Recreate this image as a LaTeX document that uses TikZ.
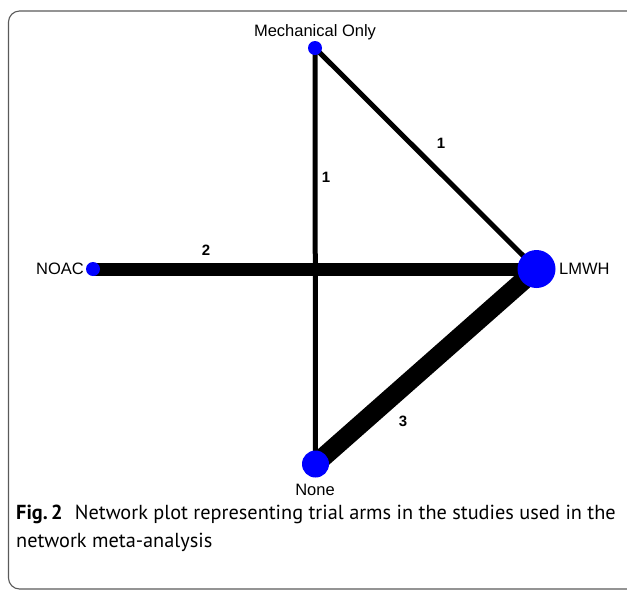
\documentclass[tikz,border=0pt]{standalone}
\usepackage{fontspec}
\setmainfont{Liberation Sans}
\newfontfamily\capfont{PT Sans}
\usetikzlibrary{backgrounds}
\definecolor{nodeblue}{RGB}{0,0,255}
\definecolor{framegray}{RGB}{90,90,90}
\tikzset{
  trt/.style={circle, fill=nodeblue, inner sep=0pt, minimum size=#1},
  trtlabel/.style={font=\fontsize{16.5}{19}\selectfont, inner sep=0pt},
  edgelabel/.style={font=\fontsize{15}{18}\selectfont\bfseries, inner sep=0pt},
  link/.style={line width=#1, line cap=butt, black},
  captext/.style={font=\capfont\fontsize{20.3}{28}\selectfont, inner sep=0pt, anchor=base west}
}
\begin{document}
\begin{tikzpicture}[x=1pt,y=-1pt]
\useasboundingbox (0,0) rectangle (627,590);
\draw[framegray, line width=1.1pt, rounded corners=11pt] (8.5,11) rectangle (660,589);
% treatment nodes
\node[trt=14pt] (mech) at (315,48) {};
\node[trt=14pt] (noac) at (93,269) {};
\node[trt=38pt] (lmwh) at (536.5,269) {};
\node[trt=27pt] (none) at (315.5,464) {};
% node labels
\node[trtlabel] (lmech) at (315,32) {Mechanical Only};
\node[trtlabel, anchor=east] (lnoac) at (84,269) {NOAC};
\node[trtlabel, anchor=west] (llmwh) at (559,269) {LMWH};
\node[trtlabel] (lnone) at (315,490) {None};
% connectors
\begin{pgfonlayer}{background}
\draw[link=5pt] (mech.center) -- (none.center);
\draw[link=5pt] (mech.center) -- (lmwh.center);
\draw[link=13pt] (noac.center) -- (lmwh.center);
\draw[link=19pt] (none.center) -- (lmwh.center);
\end{pgfonlayer}
% edge labels
\node[edgelabel] (e1) at (441,143) {1};
\node[edgelabel] (e2) at (326,177) {1};
\node[edgelabel] (e3) at (206,250) {2};
\node[edgelabel] (e4) at (403,421) {3};
% caption
\node[captext] (cap1) at (16,519) {\textbf{Fig.\,2}\hspace{0.6em}Network plot representing trial arms in the studies used in the};
\node[captext] (cap2) at (16,547) {network meta-analysis};
\end{tikzpicture}
\end{document}
